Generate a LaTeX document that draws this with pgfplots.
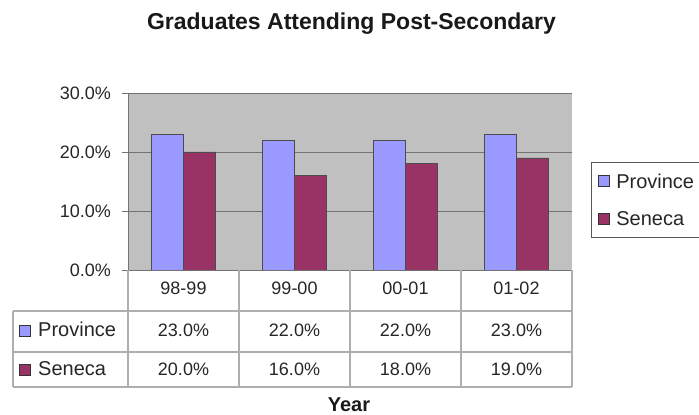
\documentclass[border=0pt]{standalone}
\usepackage{pgfplots}
\pgfplotsset{compat=1.18}
\usepackage{fontspec}
\setmainfont{Liberation Sans}
\definecolor{prov}{HTML}{9999FF}
\definecolor{sen}{HTML}{993366}
\definecolor{plotbg}{HTML}{C0C0C0}
\definecolor{tbl}{HTML}{AEAEAE}
\newcommand{\lbl}{\fontsize{18}{20}\selectfont}
\newcommand{\wrd}{\fontsize{20}{22}\selectfont}

\begin{document}
\begin{tikzpicture}[x=1pt,y=1pt]
\useasboundingbox (0,0) rectangle (699,415);
\clip (0,0) rectangle (699,415);
\begin{axis}[
    at={(128pt,145pt)}, anchor=south west,
    scale only axis, width=444pt, height=177pt,
    ybar=0pt, bar width=32pt,
    xmin=-0.5, xmax=3.5,
    ymin=0, ymax=30,
    xtick=\empty,
    ytick={0,10,20,30},
    yticklabels={0.0\%,10.0\%,20.0\%,30.0\%},
    ymajorgrids=true,
    grid style={black!55, line width=0.8pt},
    axis x line*=bottom, axis y line*=left,
    axis line style={black!55, line width=0.8pt},
    axis background/.style={fill=plotbg},
    tick align=outside, major tick length=6pt,
    tick style={black!55, line width=0.8pt},
    yticklabel style={font=\lbl, text=black!85, inner xsep=0pt, xshift=-11pt},
    legend style={at={(1.0428,0.610)}, anchor=north west,
        draw=black!65, line width=1pt, font=\wrd, text=black!85,
        inner xsep=6pt, inner ysep=9pt, row sep=18pt,
        nodes={inner xsep=7pt}},
    legend cell align=left,
]
\addplot[fill=prov, draw=black!70, line width=0.6pt,
    legend image code/.code={\draw[fill=prov, draw=black!80, line width=0.8pt] (0pt,-5pt) rectangle (11pt,6pt);}]
    coordinates {(0,23) (1,22) (2,22) (3,23)};
\addplot[fill=sen, draw=black!70, line width=0.6pt,
    legend image code/.code={\draw[fill=sen, draw=black!80, line width=0.8pt] (0pt,-5pt) rectangle (11pt,6pt);}]
    coordinates {(0,20) (1,16) (2,18) (3,19)};
\legend{Province,Seneca}
\end{axis}

% data table under the axis
\begin{scope}[tbl, line width=1.4pt]
\draw (13,104) -- (572,104);
\draw (13,63) -- (572,63);
\draw (13,28) -- (572,28);
\draw (13,28) -- (13,104);
\foreach \x in {128,239,350,461,572} \draw (\x,28) -- (\x,145);
\end{scope}
\begin{scope}[every node/.style={font=\lbl, text=black!85, inner sep=0pt, anchor=base}]
\foreach \c/\t in {183.5/98-99, 294.5/99-00, 405.5/00-01, 516.5/01-02}
    \node at (\c,120) {\t};
\foreach \c/\t in {183.5/23.0\%, 294.5/22.0\%, 405.5/22.0\%, 516.5/23.0\%}
    \node at (\c,78.5) {\t};
\foreach \c/\t in {183.5/20.0\%, 294.5/16.0\%, 405.5/18.0\%, 516.5/19.0\%}
    \node at (\c,39) {\t};
\node[anchor=base west, font=\wrd] at (38,78) {Province};
\node[anchor=base west, font=\wrd] at (38,39) {Seneca};
\end{scope}
\draw[fill=prov, draw=black!80, line width=0.8pt] (19,79) rectangle (30,90);
\draw[fill=sen, draw=black!80, line width=0.8pt] (19,40) rectangle (30,51);

\node[font=\fontsize{23}{26}\selectfont\bfseries, text=black!90, anchor=base] at (351.5,385) {Graduates Attending Post-Secondary};
\node[font=\fontsize{20}{22}\selectfont\bfseries, text=black!90, anchor=base] at (349,3) {Year};
\end{tikzpicture}
\end{document}
